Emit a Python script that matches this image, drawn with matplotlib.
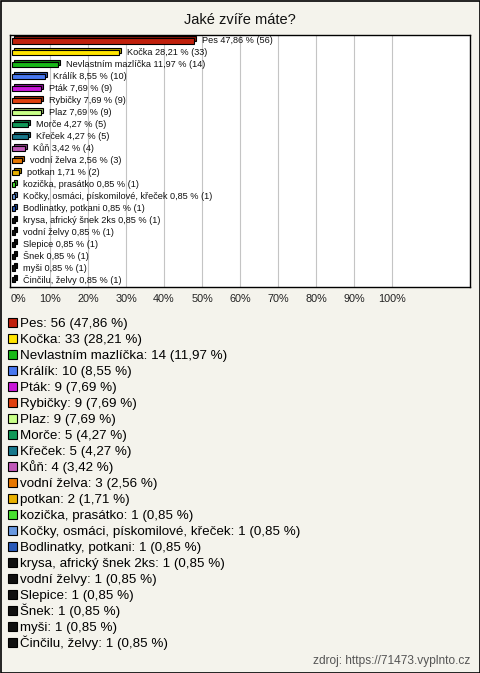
import matplotlib
matplotlib.use("Agg")
import matplotlib.pyplot as plt
import matplotlib.transforms as mtransforms
from matplotlib.patches import Rectangle
import matplotlib.colors as mcolors

plt.rcParams['font.family'] = ['Liberation Sans', 'DejaVu Sans']

labels = ['Pes', 'Kočka', 'Nevlastním mazlíčka', 'Králík', 'Pták', 'Rybičky', 'Plaz',
          'Morče', 'Křeček', 'Kůň', 'vodní želva', 'potkan', 'kozička, prasátko',
          'Kočky, osmáci, pískomilové, křeček', 'Bodlinatky, potkani',
          'krysa, africký šnek 2ks', 'vodní želvy', 'Slepice', 'Šnek', 'myši',
          'Činčilu, želvy']
counts = [56, 33, 14, 10, 9, 9, 9, 5, 5, 4, 3, 2, 1, 1, 1, 1, 1, 1, 1, 1, 1]
pcts = [47.86, 28.21, 11.97, 8.55, 7.69, 7.69, 7.69, 4.27, 4.27, 3.42, 2.56, 1.71,
        0.85, 0.85, 0.85, 0.85, 0.85, 0.85, 0.85, 0.85, 0.85]
colors = ['#c0200c', '#ffe400', '#18b818', '#4878f0', '#c818d8', '#e04010', '#c8ff88',
          '#109858', '#18788c', '#c058b8', '#e87800', '#e8b000', '#48e030', '#6898e0',
          '#2858b8', '#101010', '#101010', '#101010', '#101010', '#101010', '#101010']

def fmt(v):
    return ('%.2f' % v).replace('.', ',')

W, H = 480, 673
bg = '#f4f3ec'
fig = plt.figure(figsize=(W / 100, H / 100), dpi=100, facecolor=bg)

# pixel canvas for frame, title, legend
base = fig.add_axes([0, 0, 1, 1])
base.set_xlim(0, W)
base.set_ylim(H, 0)
base.axis('off')
base.add_patch(Rectangle((0.5, 0.5), W - 1, H - 1, fill=False, ec='black', lw=1.2))
base.text(240, 20, 'Jaké zvíře máte?', ha='center', va='center', fontsize=10.5, color='#111')
base.text(470, 661, 'zdroj: https://71473.vyplnto.cz', ha='right', va='center',
          fontsize=8.6, color='#555555')

for i, (lab, c, p, col) in enumerate(zip(labels, counts, pcts, colors)):
    y = 322 + i * 16
    base.add_patch(Rectangle((8, y - 4.5), 9, 9, fc=col, ec='black', lw=0.8))
    base.text(20, y + 4.6, '%s: %d (%s %%)' % (lab, c, fmt(p)), ha='left',
              va='baseline', fontsize=9.6, color='black')

# bar chart
ax = fig.add_axes([10 / W, 1 - 287 / H, 460 / W, 252 / H])
ax.set_facecolor('white')
ax.set_xlim(-0.53, 120.5)
ax.set_ylim(20.59, -0.502)
for s in ax.spines.values():
    s.set_color('black')
    s.set_linewidth(1)
ax.set_xticks(range(10, 101, 10))
ax.xaxis.grid(True, color='#c4c4c4', lw=0.8)
ax.set_axisbelow(True)
ax.set_yticks([])
ax.tick_params(axis='x', length=0, labelbottom=False)

back = mtransforms.offset_copy(ax.transData, fig=fig, x=2.2, y=2.2, units='dots')
ypos = list(range(len(labels)))
darker = [mcolors.to_hex([c * 0.7 for c in mcolors.to_rgb(col)]) for col in colors]
ax.barh(ypos, pcts, height=0.42, color=darker, edgecolor='black', lw=0.8,
        transform=back)
ax.barh(ypos, pcts, height=0.42, color=colors, edgecolor='black', lw=0.8)

lab_tr = mtransforms.offset_copy(ax.transData, fig=fig, x=8, y=0, units='dots')
for i, (lab, c, p) in enumerate(zip(labels, counts, pcts)):
    ax.text(p, i, '%s %s %% (%d)' % (lab, fmt(p), c), transform=lab_tr,
            ha='left', va='center', fontsize=6.6, color='#111')

for v in range(0, 101, 10):
    xp = 12 + v * 3.8
    base.text(xp if v else 11, 299, '%d%%' % v, ha='center' if v else 'left',
              va='center', fontsize=7.8, color='#222')

fig.savefig('out.png', dpi=100, facecolor=bg)
